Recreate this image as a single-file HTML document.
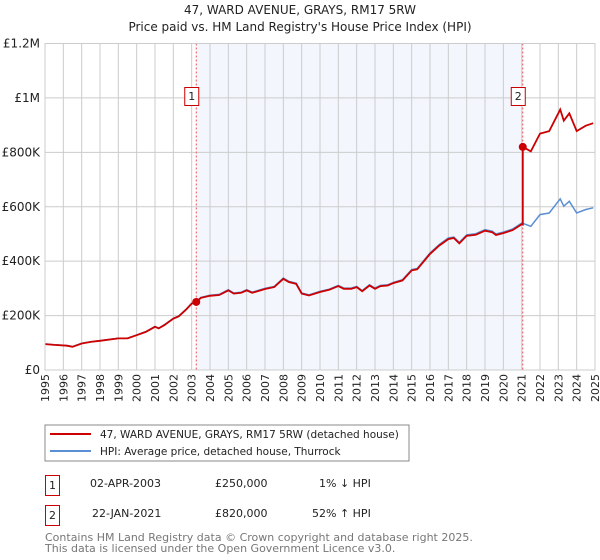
<!DOCTYPE html>
<html><head><meta charset="utf-8">
<style>
body{margin:0;background:#fff;font-family:"DejaVu Sans","Liberation Sans",sans-serif;}
#wrap{position:relative;width:600px;height:560px;overflow:hidden;}
svg text{font-family:"DejaVu Sans","Liberation Sans",sans-serif;}
</style></head><body>
<div id="wrap">
<svg id="chart" width="600" height="560">
 <text x="300" y="14" text-anchor="middle" font-size="12" fill="#222">47, WARD AVENUE, GRAYS, RM17 5RW</text>
 <text x="300" y="31" text-anchor="middle" font-size="12" fill="#222">Price paid vs. HM Land Registry's House Price Index (HPI)</text>
 <g id="grid"></g>
 <g id="marks"></g>
 <g id="axes"></g>
 <rect x="45" y="425" width="364" height="36" fill="#fff" stroke="#888"/>
 <line x1="50" y1="434" x2="91" y2="434" stroke="#cc0000" stroke-width="2"/>
 <text x="100" y="438" font-size="10.5" fill="#222">47, WARD AVENUE, GRAYS, RM17 5RW (detached house)</text>
 <line x1="50" y1="451" x2="91" y2="451" stroke="#5b8fd4" stroke-width="2"/>
 <text x="100" y="455" font-size="10.5" fill="#222">HPI: Average price, detached house, Thurrock</text>
 <g>
  <rect x="45.5" y="475.5" width="14" height="20" fill="#fff" stroke="#cc0000"/>
  <text x="52.5" y="489" text-anchor="middle" font-size="11" fill="#222">1</text>
  <text x="90" y="487" font-size="11" fill="#222">02-APR-2003</text>
  <text x="215" y="487" font-size="11" fill="#222">£250,000</text>
  <text x="319" y="487" font-size="11" fill="#222">1% ↓ HPI</text>
 </g>
 <g>
  <rect x="45.5" y="505.5" width="14" height="20" fill="#fff" stroke="#cc0000"/>
  <text x="52.5" y="519" text-anchor="middle" font-size="11" fill="#222">2</text>
  <text x="92" y="517" font-size="11" fill="#222">22-JAN-2021</text>
  <text x="215" y="517" font-size="11" fill="#222">£820,000</text>
  <text x="312" y="517" font-size="11" fill="#222">52% ↑ HPI</text>
 </g>
 <text x="45" y="541" font-size="11" fill="#777">Contains HM Land Registry data © Crown copyright and database right 2025.</text>
 <text x="45" y="552" font-size="11" fill="#777">This data is licensed under the Open Government Licence v3.0.</text>
</svg>
</div>
<script>
const hpiYears=[1995,1995.5,1996.2,1996.5,1997,1997.5,1998,1999,1999.5,2000,2000.5,2001,2001.2,2001.5,2002,2002.3,2002.7,2003,2003.25,2003.5,2004,2004.5,2005,2005.3,2005.7,2006,2006.3,2007,2007.5,2008,2008.3,2008.7,2009,2009.4,2010,2010.5,2011,2011.3,2011.7,2012,2012.3,2012.7,2013,2013.3,2013.7,2014,2014.5,2015,2015.3,2016,2016.5,2017,2017.3,2017.6,2018,2018.5,2019,2019.4,2019.6,2020,2020.5,2021,2021.1,2021.5,2022,2022.5,2023,2023.1,2023.3,2023.6,2024,2024.5,2024.9];
const hpiValues=[96,93,90,86,98,104,108,117,117,129,141,160,154,166,190,199,224,246,252,267,275,278,295,283,286,295,286,300,307,338,326,319,283,276,289,297,311,301,301,307,292,313,301,311,313,322,332,369,373,430,461,485,489,469,497,501,516,510,500,507,518,540,538,528,571,577,620,629,602,620,577,590,596];
const saleDates=[2003.25,2021.06];
const salePrices=[250,820];
const saleLabels=["1","2"];
const yTicks=[0,200,400,600,800,1000,1200];
const yTickLabels=["£0","£200K","£400K","£600K","£800K","£1M","£1.2M"];
const xTicks=[1995,1996,1997,1998,1999,2000,2001,2002,2003,2004,2005,2006,2007,2008,2009,2010,2011,2012,2013,2014,2015,2016,2017,2018,2019,2020,2021,2022,2023,2024,2025];

const X0=45,X1=595,Y0=370,Y1=43.5;
const xs=v=>X0+(v-1995)/30*(X1-X0);
const ys=v=>Y0-v/1200*(Y0-Y1);
const NS="http://www.w3.org/2000/svg";
function mk(tag,attrs,parent){const e=document.createElementNS(NS,tag);for(const k in attrs)e.setAttribute(k,attrs[k]);parent.appendChild(e);return e;}
const grid=document.getElementById('grid'),marks=document.getElementById('marks'),axes=document.getElementById('axes');
function hpiAt(t){for(let i=0;i<hpiYears.length-1;i++){if(t<=hpiYears[i+1]){const f=(t-hpiYears[i])/(hpiYears[i+1]-hpiYears[i]);return hpiValues[i]+f*(hpiValues[i+1]-hpiValues[i]);}}return hpiValues[hpiValues.length-1];}

const shade=mk('rect',{x:xs(saleDates[0]),y:Y1,width:xs(saleDates[1])-xs(saleDates[0]),height:Y0-Y1,fill:'#f3f6fd'},grid);


xTicks.forEach((t,i)=>{
 const l=mk('line',{x1:xs(t),x2:xs(t),y1:Y1,y2:Y0,stroke:'#cccccc','stroke-width':1},grid);
 
 
 const tx=mk('text',{x:0,y:0,transform:`translate(${xs(t)+4},374) rotate(-90)`,'text-anchor':'end','font-size':11,fill:'#222'},axes);
 tx.textContent=String(t);
 
 
});
yTicks.forEach((v,i)=>{
 const l=mk('line',{x1:X0,x2:X1,y1:ys(v),y2:ys(v),stroke:'#cccccc','stroke-width':1},grid);
 
 
 const tx=mk('text',{x:40,y:ys(v)+4,'text-anchor':'end','font-size':12,fill:'#222'},axes);
 tx.textContent=yTickLabels[i];
 
 
});
saleDates.forEach((d,i)=>{
 const l=mk('line',{x1:xs(d),x2:xs(d),y1:Y1,y2:Y0,stroke:'#ee5555','stroke-width':1,'stroke-dasharray':'2,2'},grid);
 
 
 const g=mk('g',{},axes);
 
 
 mk('rect',{x:xs(d)-11.5,y:87.5,width:14,height:18,fill:'#fff',stroke:'#cc0000'},g);
 const t=mk('text',{x:xs(d)-4.5,y:100,'text-anchor':'middle','font-size':11,fill:'#222'},g);
 t.textContent=saleLabels[i];
});
const hpiPts=hpiYears.map((y,i)=>xs(y).toFixed(1)+','+ys(hpiValues[i]).toFixed(1)).join(' ');
const hp=mk('polyline',{points:hpiPts,fill:'none',stroke:'#5b8fd4','stroke-width':1.5},marks);


const pPts=[];
hpiYears.forEach((y,i)=>{
 let k=0;for(let j=0;j<saleDates.length;j++)if(y>=saleDates[j])k=j;
 pPts.push([y,hpiValues[i]*salePrices[k]/hpiAt(saleDates[k])]);
});
const before=hpiAt(saleDates[1])*salePrices[0]/hpiAt(saleDates[0]);
const pp=[];
pPts.forEach(p=>{if(p[0]<saleDates[1])pp.push(p);});
pp.push([saleDates[1],before]);pp.push([saleDates[1],salePrices[1]]);
pPts.forEach(p=>{if(p[0]>saleDates[1])pp.push(p);});
const pl=mk('polyline',{points:pp.map(p=>xs(p[0]).toFixed(1)+','+ys(p[1]).toFixed(1)).join(' '),fill:'none',stroke:'#cc0000','stroke-width':1.8},marks);


saleDates.forEach((d,i)=>{
 const c=mk('circle',{cx:xs(d),cy:ys(salePrices[i]),r:4,fill:'#cc0000'},marks);
 
 
});
const ax=mk('rect',{x:X0,y:Y1,width:X1-X0,height:Y0-Y1,fill:'none',stroke:'#cccccc'},axes);


</script>
</body></html>
